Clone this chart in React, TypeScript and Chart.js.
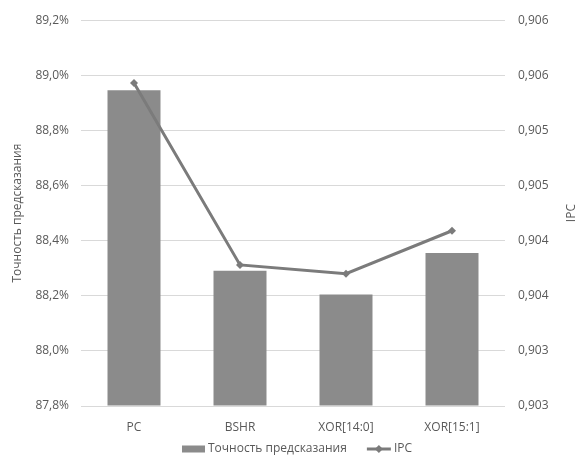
import React, { useEffect, useRef } from "react";
import { Chart, registerables } from "chart.js";

Chart.register(...registerables);

const categories = ["PC", "BSHR", "XOR[14:0]", "XOR[15:1]"];
const accuracy = [88.946, 88.291, 88.205, 88.355];
const ipc = [0.90543, 0.90378, 0.9037, 0.90409];
const rightTickLabels = ["0,903", "0,903", "0,904", "0,904", "0,905", "0,905", "0,906", "0,906"];
const leftTitle = "Точность предсказания";
const rightTitle = "IPC";
const barLabel = "Точность предсказания";
const lineLabel = "IPC";

const FONT = "'Open Sans', sans-serif";
const TEXT = "#595959";
const BAR = "#8b8b8b";
const LINE = "#7b7b7b";
const GRID = "#d9d9d9";

const decorPlugin = {
  id: "decor",
  afterDraw(chart: any) {
    const ctx = chart.ctx as CanvasRenderingContext2D;
    const area = chart.chartArea;
    const cy = (area.top + area.bottom) / 2;
    ctx.save();
    ctx.fillStyle = TEXT;
    ctx.font = `12px ${FONT}`;
    ctx.textAlign = "center";
    ctx.textBaseline = "middle";
    // left title
    ctx.save();
    ctx.translate(18, cy);
    ctx.rotate(-Math.PI / 2);
    ctx.fillText(leftTitle, 0, 0);
    ctx.restore();
    // right title
    ctx.save();
    ctx.translate(572, cy);
    ctx.rotate(-Math.PI / 2);
    ctx.fillText(rightTitle, 0, 0);
    ctx.restore();

    // legend
    const y = 449;
    ctx.font = `12px ${FONT}`;
    ctx.textAlign = "left";
    const w1 = ctx.measureText(barLabel).width;
    const w2 = ctx.measureText(lineLabel).width;
    const sw = 23, gap = 3, sep = 20, lw = 24;
    const total = sw + gap + w1 + sep + lw + gap + w2;
    let x = (area.left + area.right) / 2 - total / 2 + 4;
    ctx.fillStyle = BAR;
    ctx.fillRect(x, y - 3.5, sw, 7);
    x += sw + gap;
    ctx.fillStyle = TEXT;
    ctx.fillText(barLabel, x, y);
    x += w1 + sep;
    ctx.strokeStyle = LINE;
    ctx.lineWidth = 3;
    ctx.beginPath();
    ctx.moveTo(x, y);
    ctx.lineTo(x + lw, y);
    ctx.stroke();
    ctx.fillStyle = LINE;
    ctx.beginPath();
    const mx = x + lw / 2;
    ctx.moveTo(mx, y - 4);
    ctx.lineTo(mx + 4, y);
    ctx.lineTo(mx, y + 4);
    ctx.lineTo(mx - 4, y);
    ctx.closePath();
    ctx.fill();
    x += lw + gap;
    ctx.fillStyle = TEXT;
    ctx.fillText(lineLabel, x, y);
    ctx.restore();
  },
};

export default function App() {
  const ref = useRef<HTMLCanvasElement>(null);
  useEffect(() => {
    document.body.style.margin = "0";
    const chart = new Chart(ref.current!, {
      type: "bar",
      data: {
        labels: categories,
        datasets: [
          {
            type: "line",
            label: lineLabel,
            data: ipc,
            yAxisID: "y1",
            borderColor: LINE,
            backgroundColor: LINE,
            borderWidth: 3,
            pointStyle: "rectRot",
            pointRadius: 4,
            pointBorderWidth: 0,
            pointBackgroundColor: LINE,
            tension: 0,
            order: 0,
          } as any,
          {
            type: "bar",
            label: barLabel,
            data: accuracy,
            yAxisID: "y",
            backgroundColor: BAR,
            categoryPercentage: 1,
            barPercentage: 0.5,
            base: 87.8,
            order: 1,
          } as any,
        ],
      },
      options: {
        responsive: false,
        animation: false,
        layout: { padding: { top: 20, bottom: 0, left: 0, right: 0 } },
        plugins: { legend: { display: false }, tooltip: { enabled: false } },
        scales: {
          x: {
            grid: { display: false },
            border: { display: false },
            ticks: { color: TEXT, font: { family: FONT, size: 12 }, padding: 6 },
            afterFit(s: any) {
              s.height = 50;
            },
          },
          y: {
            position: "left",
            min: 87.8,
            max: 89.2,
            ticks: {
              stepSize: 0.2,
              color: TEXT,
              font: { family: FONT, size: 12 },
              padding: 12,
              callback: (v: any) => Number(v).toFixed(1).replace(".", ",") + "%",
            },
            grid: { color: GRID, lineWidth: 1, drawTicks: false },
            border: { display: false },
            afterFit(s: any) {
              s.width = 81;
            },
          },
          y1: {
            position: "right",
            min: 0.9025,
            max: 0.906,
            ticks: {
              stepSize: 0.0005,
              color: TEXT,
              font: { family: FONT, size: 12 },
              padding: 13,
              callback: (_v: any, i: number) => rightTickLabels[i] ?? "",
            },
            grid: { display: false, drawTicks: false },
            border: { display: false },
            afterFit(s: any) {
              s.width = 73;
            },
          },
        },
      },
      plugins: [decorPlugin],
    });
    return () => chart.destroy();
  }, []);
  return (
    <div style={{ width: 578, height: 456, background: "#fff" }}>
      <canvas ref={ref} width={578} height={456} />
    </div>
  );
}
